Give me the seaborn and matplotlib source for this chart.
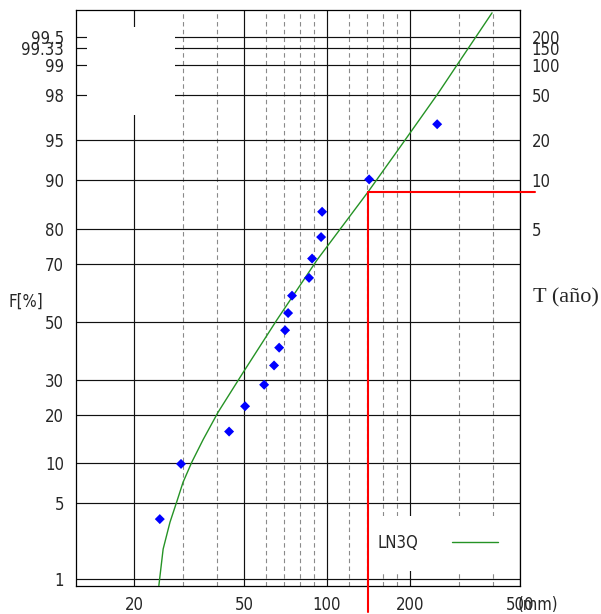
import numpy as np
import matplotlib.pyplot as plt
import seaborn as sns
from matplotlib.patches import Rectangle
from matplotlib.ticker import FixedLocator, NullFormatter, FixedFormatter
from statistics import NormalDist

# observed rainfall (mm) and plotting position F (%)
obs_mm = [24.8, 29.6, 44.2, 50.5, 59.2, 64.3, 67.1, 70.5, 72.3, 74.7,
          86.1, 88.3, 95.2, 96.0, 142.1, 250.6]
obs_F = [3.7, 9.9, 16.0, 22.2, 28.4, 34.6, 40.7, 46.9, 53.1, 59.3,
         65.4, 71.6, 77.8, 84.0, 90.1, 96.3]

# LN3Q fitted curve
fit_mm = [24.6, 25.5, 27.0, 28.6, 30.1, 32.4, 35.6, 40.3, 49.7, 65.9,
          92.1, 140.9, 184, 252.6, 300, 396]
fit_F = [0.84, 1.98, 3.48, 5.2, 7.3, 10.2, 14.3, 20.6, 32.3, 50.7,
         71.2, 88.0, 94.3, 98.06, 99.05, 99.74]

# design value marked in red
design_mm = 141
design_F = 88.0

F_ticks = [1, 5, 10, 20, 30, 50, 70, 80, 90, 95, 98, 99, 99.33, 99.5]
F_labels = ['1', '5', '10', '20', '30', '50', '70', '80', '90', '95', '98', '99', '99.33', '99.5']
T_labels = ['5', '10', '20', '50', '100', '150', '200']
T_pos = [80, 90, 95, 98, 99, 99.333, 99.5]
x_major = [20, 50, 100, 200, 500]
x_minor = [30, 40, 60, 70, 80, 90, 120, 140, 160, 180, 300, 400]

nd = NormalDist()


def probit(p):
    p = np.clip(np.asarray(p, dtype=float) / 100.0, 1e-9, 1 - 1e-9)
    return np.vectorize(nd.inv_cdf, otypes=[float])(p)


def probit_inv(z):
    z = np.asarray(z, dtype=float)
    return np.vectorize(nd.cdf, otypes=[float])(z) * 100.0


sns.set_style('white')
plt.rcParams['font.family'] = ['DejaVu Sans']
plt.rcParams['font.stretch'] = 'condensed'
plt.rcParams['font.size'] = 12

fig = plt.figure(figsize=(6.01, 6.14), dpi=100)
ax = fig.add_axes([76 / 601, 28 / 614, 444 / 601, 576 / 614])

sns.lineplot(x=fit_mm, y=fit_F, ax=ax, color='#259325', lw=1.0,
             estimator=None, sort=False, label='LN3Q', zorder=3)
sns.scatterplot(x=obs_mm, y=obs_F, ax=ax, marker='D', s=26, color='blue',
                edgecolor='none', linewidth=0, zorder=4)

ax.set_xscale('log')
ax.set_yscale('function', functions=(probit, probit_inv))
ax.set_xlim(12.33, 500)
ax.set_ylim(0.838, 99.76)

ax.xaxis.set_major_locator(FixedLocator(x_major))
ax.xaxis.set_major_formatter(FixedFormatter([str(v) for v in x_major]))
ax.xaxis.set_minor_locator(FixedLocator(x_minor))
ax.xaxis.set_minor_formatter(NullFormatter())
ax.yaxis.set_major_locator(FixedLocator(F_ticks))
ax.yaxis.set_major_formatter(FixedFormatter(F_labels))
ax.yaxis.set_minor_locator(FixedLocator([]))

ax.set_axisbelow(True)
ax.grid(which='major', axis='both', color='#111111', lw=0.85, ls='-')
ax.grid(which='minor', axis='x', color='#8a8a8a', lw=0.8, ls=(0, (4, 3)))
ax.tick_params(which='both', length=0)
ax.tick_params(axis='y', pad=8.5)
ax.tick_params(axis='x', pad=7)
for s in ax.spines.values():
    s.set_color('black')
    s.set_linewidth(0.9)
ax.set_xlabel('')
ax.set_ylabel('')

# blank areas of the paper
ax.add_patch(Rectangle((0.0248, 0.8177), 0.1982, 0.1528, transform=ax.transAxes,
                       facecolor='white', edgecolor='none', zorder=1))
ax.add_patch(Rectangle((0.6667, 0.026), 0.3320, 0.0955, transform=ax.transAxes,
                       facecolor='white', edgecolor='none', zorder=1))

ax.legend(loc='center left', bbox_to_anchor=(0.678, 0.0747), frameon=False,
          markerfirst=False, handlelength=2.76, handletextpad=2.04,
          borderpad=0, borderaxespad=0, fontsize=12)

# red design lines
fx, fy = ax.transAxes.inverted().transform(ax.transData.transform((design_mm, design_F)))
ax.axvline(design_mm, ymin=-0.045, ymax=fy, color='red', lw=1.5, clip_on=False, zorder=5)
ax.axhline(design_F, xmin=fx, xmax=1.034, color='red', lw=1.5, clip_on=False, zorder=5)

# return period axis
ax2 = ax.twinx()
ax2.set_yscale('function', functions=(probit, probit_inv))
ax2.set_ylim(0.838, 99.76)
ax2.yaxis.set_major_locator(FixedLocator(T_pos))
ax2.yaxis.set_major_formatter(FixedFormatter(T_labels))
ax2.yaxis.set_minor_locator(FixedLocator([]))
ax2.tick_params(length=0, pad=8.5)
for s in ax2.spines.values():
    s.set_visible(False)

ax.annotate('(mm)', xy=(1, 0), xycoords='axes fraction', xytext=(-1.5, -7),
            textcoords='offset points', ha='left', va='top', fontsize=12)
fig.text(26 / 601, 1 - 302 / 614, 'F[%]', ha='center', va='center', fontsize=12)
fig.text(566 / 601, 1 - 298 / 614, 'T (año)', ha='center', va='center', fontsize=16,
         family=['Liberation Serif', 'DejaVu Serif'])

fig.savefig('out.png', dpi=100)
